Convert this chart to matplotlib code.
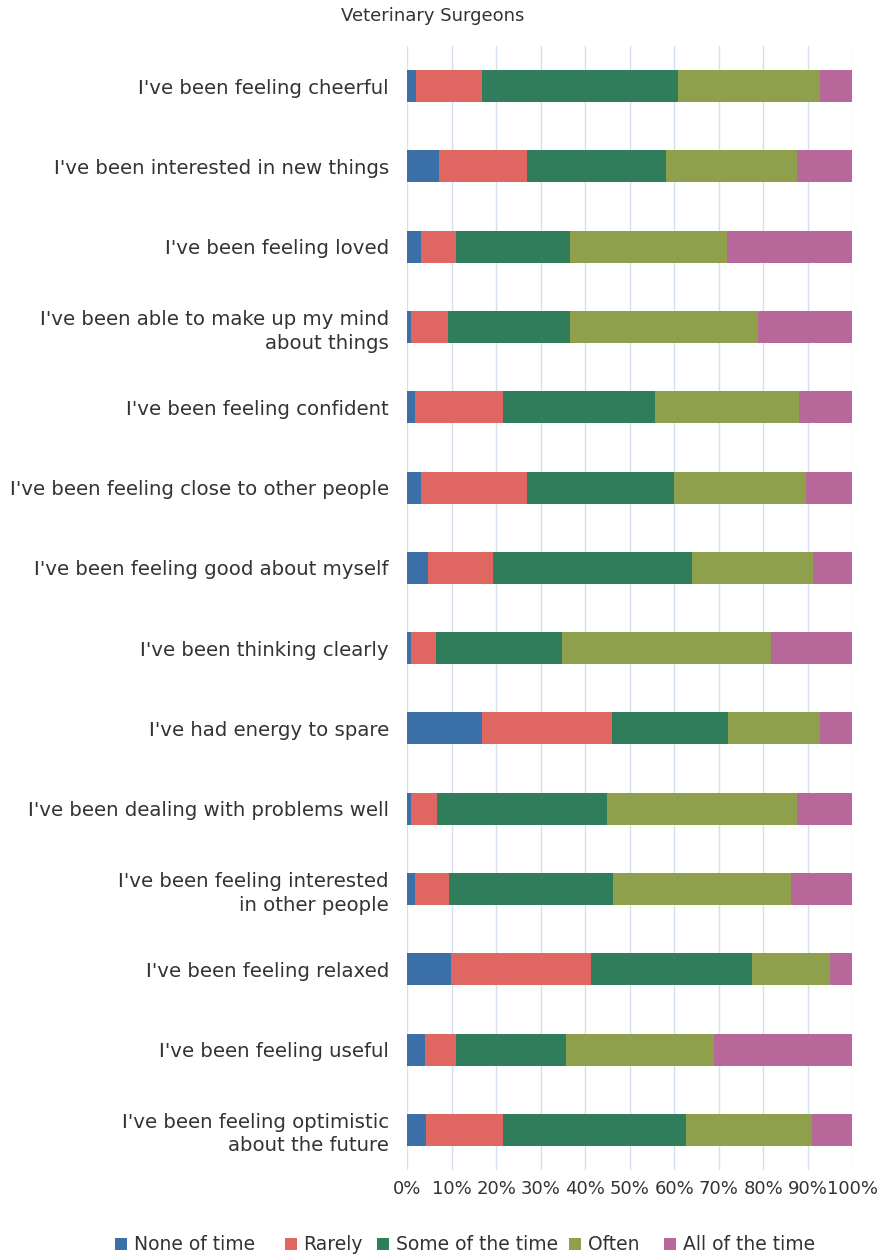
import matplotlib
matplotlib.use("Agg")
import matplotlib.pyplot as plt
import numpy as np
from matplotlib.ticker import FuncFormatter, MultipleLocator

categories = [
    "I've been feeling cheerful",
    "I've been interested in new things",
    "I've been feeling loved",
    "I've been able to make up my mind\nabout things",
    "I've been feeling confident",
    "I've been feeling close to other people",
    "I've been feeling good about myself",
    "I've been thinking clearly",
    "I've had energy to spare",
    "I've been dealing with problems well",
    "I've been feeling interested\nin other people",
    "I've been feeling relaxed",
    "I've been feeling useful",
    "I've been feeling optimistic\nabout the future",
]

none_of_time = [2.0, 7.1, 3.2, 0.9, 1.9, 3.2, 4.8, 0.9, 16.9, 0.9, 1.9, 9.8, 4.0, 4.3]
rarely = [14.9, 19.9, 7.9, 8.2, 19.6, 23.8, 14.4, 5.5, 29.2, 5.8, 7.5, 31.6, 7.1, 17.2]
some_of_time = [43.9, 31.1, 25.6, 27.6, 34.1, 33.0, 44.7, 28.4, 26.0, 38.1, 36.9, 36.1, 24.5, 41.2]
often = [31.9, 29.5, 35.1, 42.0, 32.3, 29.5, 27.2, 47.0, 20.6, 42.8, 39.8, 17.5, 33.4, 28.3]
all_of_time = [7.3, 12.4, 28.2, 21.3, 12.0, 10.5, 8.9, 18.2, 7.3, 12.4, 13.9, 4.9, 31.0, 8.9]

series_names = ["None of time", "Rarely", "Some of the time", "Often", "All of the time"]
colors = ["#3a6fa8", "#df6661", "#2f7d5a", "#8fa04c", "#b8679b"]

plt.rcParams['font.family'] = ['DejaVu Sans']

W, H = 879, 1256
fig = plt.figure(figsize=(W / 100, H / 100), dpi=100)
ax = fig.add_axes([407 / W, 1 - 1170 / H, (852.5 - 407) / W, (1170 - 46) / H])

data = [none_of_time, rarely, some_of_time, often, all_of_time]
y = np.arange(len(categories))
left = np.zeros(len(categories))
for vals, name, c in zip(data, series_names, colors):
    vals = np.array(vals)
    ax.barh(y, vals, left=left, height=0.4, color=c, label=name, zorder=2)
    left += vals

ax.set_xlim(0, 100)
ax.set_ylim(len(categories) - 0.5, -0.5)
ax.set_yticks(y)
ax.set_yticklabels(categories, fontsize=14.2, color="#333333", linespacing=1.3)
ax.xaxis.set_major_locator(MultipleLocator(10))
ax.xaxis.set_major_formatter(FuncFormatter(lambda v, p: f"{int(round(v))}%"))
ax.tick_params(axis='x', labelsize=13, colors="#333333", length=0, pad=7)
ax.tick_params(axis='y', length=0, pad=13)
ax.grid(axis='x', color="#d5e0ee", linewidth=1, zorder=0)
for s in ax.spines.values():
    s.set_visible(False)

fig.text(0.492, 1 - 16 / H, "Veterinary Surgeons", ha='center', va='center',
         fontsize=13, color="#333333")

# legend items placed individually to mimic the uneven spacing of the original
handles, labels = ax.get_legend_handles_labels()
legend_x = [115, 285, 377, 569, 664]
for h, l, lx in zip(handles, labels, legend_x):
    fig.legend([h], [l], loc='center left', bbox_to_anchor=(lx / W, 1 - 1245 / H),
               frameon=False, fontsize=13.5, handlelength=0.64, handleheight=0.64,
               handletextpad=0.35, borderpad=0, borderaxespad=0,
               labelcolor="#333333")

fig.savefig("out.png", dpi=100)
